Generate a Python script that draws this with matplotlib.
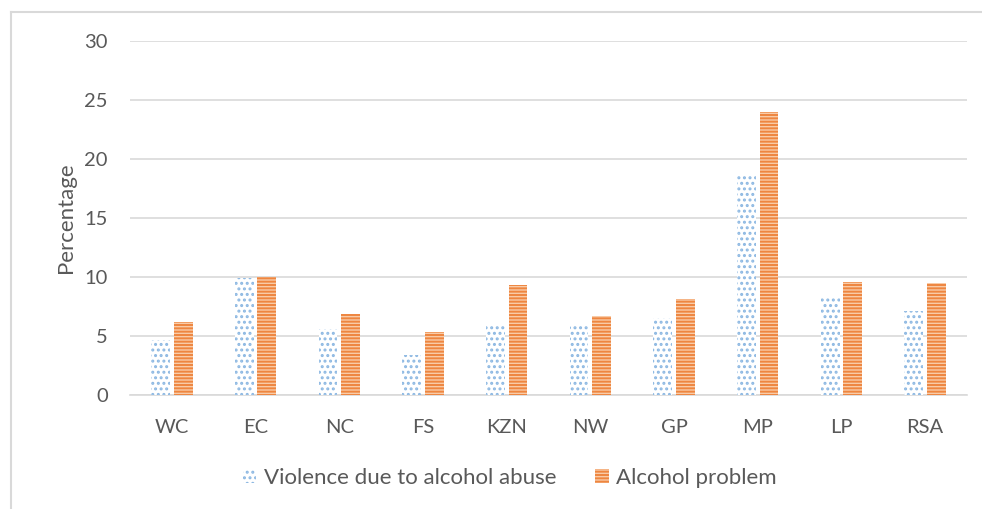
import matplotlib
matplotlib.use("Agg")
import matplotlib.pyplot as plt
from matplotlib.lines import Line2D
import numpy as np

categories = ["WC", "EC", "NC", "FS", "KZN", "NW", "GP", "MP", "LP", "RSA"]
violence = [4.7, 9.9, 5.6, 3.4, 5.9, 6.0, 6.5, 18.7, 8.4, 7.1]
alcohol = [6.2, 10.0, 6.9, 5.3, 9.3, 6.7, 8.1, 24.0, 9.6, 9.5]
series_names = ["Violence due to alcohol abuse", "Alcohol problem"]
yticks = [0, 5, 10, 15, 20, 25, 30]

plt.rcParams['font.family'] = ['Lato', 'DejaVu Sans']
plt.rcParams['hatch.linewidth'] = 1.4

W, H = 982, 509
fig = plt.figure(figsize=(W / 100, H / 100), dpi=100)

# outer frame lines
fig.add_artist(Line2D([11 / W, 11 / W], [0, 1 - 12 / H], color="#D9D9D9", lw=1.5))
fig.add_artist(Line2D([11 / W, 1], [1 - 12 / H, 1 - 12 / H], color="#D9D9D9", lw=1.5))

ax = fig.add_axes([130 / W, 1 - 395 / H, (967 - 130) / W, (395 - 41) / H])

x = np.arange(len(categories))
bw = 0.225
off = 0.135
ax.bar(x - off, violence, bw, facecolor="white", edgecolor="#8DB8E2",
       hatch="...", linewidth=0, label=series_names[0], zorder=3)
ax.bar(x + off, alcohol, bw, facecolor="#F9CBA7", edgecolor="#EE8640",
       hatch="-----", linewidth=0, label=series_names[1], zorder=3)

ax.set_xlim(-0.5, len(categories) - 0.5)
ax.set_ylim(0, 30)
ax.set_yticks(yticks)
ax.set_xticks(x)
ax.set_xticklabels(categories)
ax.tick_params(axis="both", length=0, labelsize=14.5, colors="#595959")
ax.tick_params(axis="y", pad=16)
ax.tick_params(axis="x", pad=17)
ax.yaxis.grid(True, color="#D9D9D9", lw=1.2, zorder=0)
for s in ["top", "right", "left"]:
    ax.spines[s].set_visible(False)
ax.spines["bottom"].set_color("#D9D9D9")
ax.spines["bottom"].set_linewidth(1.2)
ax.set_axisbelow(True)
ax.set_ylabel("Percentage", fontsize=16, color="#595959", labelpad=6)

leg = ax.legend(loc="center", bbox_to_anchor=(0.454, -0.235), ncol=2,
                frameon=False, fontsize=16, handlelength=0.6, handleheight=0.6,
                handletextpad=0.35, columnspacing=1.75)
for t in leg.get_texts():
    t.set_color("#595959")

fig.savefig("out.png", dpi=100)
